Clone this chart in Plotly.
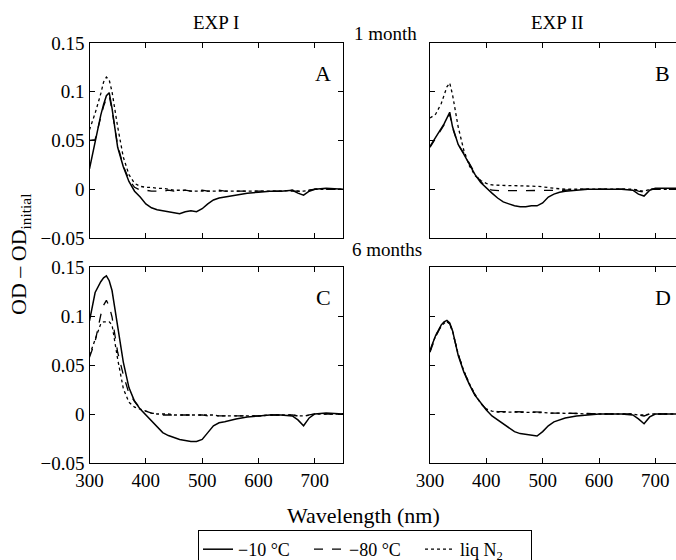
import plotly.graph_objects as go

# ---------------- data ----------------
wavelength = [300, 310, 320, 325, 330, 335, 340, 350, 360, 370, 380, 390, 400, 410, 420,
              430, 440, 450, 460, 470, 480, 490, 500, 510, 520, 530, 540, 560, 580, 600,
              620, 640, 660, 670, 680, 690, 700, 720, 750]

# Panel A : EXP I, 1 month
A_m10 = [0.021, 0.050, 0.076, 0.087, 0.096, 0.099, 0.083, 0.043, 0.023, 0.008, -0.002, -0.008, -0.015, -0.019, -0.021,
         -0.022, -0.023, -0.024, -0.025, -0.023, -0.022, -0.023, -0.020, -0.015, -0.011, -0.009, -0.008, -0.006, -0.004, -0.003,
         -0.002, -0.002, -0.001, -0.004, -0.006, -0.002, 0.000, 0.001, 0.000]
A_m80 = [0.050, 0.051, 0.074, 0.085, 0.093, 0.096, 0.081, 0.045, 0.024, 0.010, 0.002, -0.001, -0.001, -0.002, -0.002,
         -0.002, -0.001, -0.002, -0.002, -0.001, -0.002, -0.002, -0.001, -0.002, -0.002, -0.001, -0.002, -0.002, -0.002, -0.002,
         -0.002, -0.002, -0.002, -0.002, -0.003, -0.001, 0.000, 0.000, 0.000]
A_n2 = [0.061, 0.078, 0.098, 0.110, 0.115, 0.112, 0.100, 0.064, 0.033, 0.015, 0.006, 0.003, 0.002, 0.002, 0.001,
        0.001, 0.000, -0.001, -0.001, -0.001, -0.002, -0.002, -0.002, -0.002, -0.002, -0.002, -0.002, -0.002, -0.002, -0.002,
        -0.002, -0.002, -0.001, -0.002, -0.002, -0.001, 0.000, 0.000, 0.000]

# Panel B : EXP II, 1 month
B_m10 = [0.044, 0.053, 0.062, 0.067, 0.073, 0.079, 0.064, 0.046, 0.036, 0.026, 0.015, 0.007, 0.001, -0.004, -0.009,
         -0.013, -0.015, -0.017, -0.018, -0.018, -0.017, -0.017, -0.014, -0.008, -0.005, -0.003, -0.002, -0.001, 0.000, 0.000,
         0.000, 0.000, -0.001, -0.005, -0.007, -0.001, 0.001, 0.001, 0.001]
B_m80 = [0.043, 0.052, 0.061, 0.066, 0.072, 0.077, 0.063, 0.046, 0.037, 0.027, 0.016, 0.008, 0.002, -0.001, -0.0015,
         -0.0015, -0.0015, -0.0015, -0.0015, -0.0015, -0.0015, -0.0015, -0.0015, -0.001, -0.001, -0.001, -0.001, 0.000, 0.000, 0.000,
         0.000, 0.000, 0.000, -0.002, -0.003, 0.000, 0.000, 0.000, 0.000]
B_n2 = [0.073, 0.077, 0.088, 0.097, 0.105, 0.109, 0.097, 0.064, 0.040, 0.024, 0.014, 0.009, 0.006, 0.0044, 0.004,
        0.004, 0.0037, 0.0037, 0.0037, 0.0037, 0.003, 0.003, 0.0025, 0.0015, 0.001, 0.0005, 0.000, 0.000, 0.000, 0.000,
        0.000, 0.000, 0.000, -0.001, -0.002, 0.000, 0.000, 0.000, 0.000]

# Panel C : EXP I, 6 months
C_m10 = [0.095, 0.124, 0.135, 0.139, 0.141, 0.136, 0.126, 0.087, 0.053, 0.027, 0.013, 0.005, -0.001, -0.008, -0.013,
         -0.019, -0.022, -0.024, -0.026, -0.027, -0.028, -0.028, -0.026, -0.019, -0.012, -0.009, -0.008, -0.005, -0.003, -0.002,
         -0.001, -0.001, -0.002, -0.006, -0.012, -0.004, 0.000, 0.001, 0.000]
C_m80 = [0.058, 0.074, 0.101, 0.111, 0.116, 0.110, 0.099, 0.063, 0.040, 0.021, 0.013, 0.006, 0.003, 0.001, 0.000,
         -0.001, -0.001, -0.001, -0.001, -0.001, -0.001, -0.001, -0.001, -0.002, -0.002, -0.002, -0.002, -0.002, -0.002, -0.002,
         -0.001, -0.001, -0.001, -0.002, -0.003, -0.001, 0.000, 0.000, 0.000]
C_n2 = [0.060, 0.075, 0.092, 0.094, 0.094, 0.094, 0.091, 0.056, 0.026, 0.012, 0.007, 0.005, 0.003, 0.001, 0.000,
        0.000, 0.000, -0.001, -0.001, -0.001, -0.001, -0.001, -0.001, -0.001, -0.001, -0.002, -0.002, -0.002, -0.002, -0.002,
        -0.001, -0.001, -0.001, -0.002, -0.002, -0.001, 0.000, 0.000, 0.000]

# Panel D : EXP II, 6 months
D_m10 = [0.065, 0.080, 0.091, 0.094, 0.0955, 0.093, 0.085, 0.060, 0.043, 0.030, 0.019, 0.011, 0.004, -0.002, -0.006,
         -0.010, -0.014, -0.018, -0.020, -0.021, -0.022, -0.0225, -0.018, -0.012, -0.008, -0.006, -0.004, -0.002, -0.001, 0.000,
         0.000, 0.000, -0.001, -0.005, -0.010, -0.003, 0.000, 0.000, 0.000]
D_m80 = [0.063, 0.079, 0.090, 0.093, 0.094, 0.092, 0.084, 0.061, 0.044, 0.030, 0.019, 0.011, 0.005, 0.003, 0.0025,
         0.0025, 0.002, 0.0025, 0.002, 0.002, 0.002, 0.002, 0.002, 0.001, 0.001, 0.001, 0.001, 0.001, 0.0005, 0.000,
         0.000, 0.000, 0.000, -0.001, -0.002, 0.000, 0.000, 0.000, 0.000]
D_n2 = [0.064, 0.080, 0.090, 0.093, 0.095, 0.092, 0.085, 0.061, 0.044, 0.031, 0.020, 0.011, 0.005, 0.003, 0.002,
        0.002, 0.002, 0.002, 0.002, 0.002, 0.0015, 0.0015, 0.0015, 0.001, 0.001, 0.001, 0.0005, 0.0005, 0.000, 0.000,
        0.000, 0.000, 0.000, -0.001, -0.001, 0.000, 0.000, 0.000, 0.000]

series_names = ["\u221210 \u00b0C", "\u221280 \u00b0C", "liq N<sub>2</sub>"]
series_dash = ["solid", "dash", "dot"]
panels = [[A_m10, A_m80, A_n2], [B_m10, B_m80, B_n2], [C_m10, C_m80, C_n2], [D_m10, D_m80, D_n2]]

y_tickvals = [-0.05, 0, 0.05, 0.1, 0.15]
y_ticktext = ["\u22120.05", "0", "0.05", "0.1", "0.15"]
x_tickvals = [300, 400, 500, 600, 700]
x_ticktext = ["300", "400", "500", "600", "700"]

# ---------------- layout geometry ----------------
W, H = 676, 560
FONT = "Liberation Serif, Times New Roman, serif"
px2x = lambda p: p / W
px2y = lambda p: 1 - p / H

x_dom_left = [px2x(89.5), px2x(343)]
x_dom_right = [px2x(430), 1.0]
y_dom_top = [px2y(238), px2y(43)]
y_dom_bot = [px2y(463), px2y(267)]
scale = (343 - 89.5) / 450.0               # px per nm
right_max = 300 + (W - 430) / scale          # right panels are cut by the page edge

fig = go.Figure()

doms = [(x_dom_left, y_dom_top), (x_dom_right, y_dom_top), (x_dom_left, y_dom_bot), (x_dom_right, y_dom_bot)]
for i, (xd, yd) in enumerate(doms):
    k = "" if i == 0 else str(i + 1)
    for j in range(3):
        fig.add_trace(go.Scatter(
            x=wavelength, y=panels[i][j], mode="lines",
            line=dict(color="black", width=1.5 if j == 0 else 1.3, dash=series_dash[j]),
            name=series_names[j], legendgroup=series_names[j], showlegend=(i == 0),
            xaxis="x" + k, yaxis="y" + k))
    left = i in (0, 2)
    bottom = i in (2, 3)
    fig.layout["xaxis" + k] = dict(
        domain=xd, anchor="y" + k,
        range=[300, 750] if left else [300, right_max],
        tickvals=x_tickvals, ticktext=x_ticktext, showticklabels=bottom,
        ticks="inside", ticklen=5, tickwidth=1.2, tickcolor="black",
        showline=True, linecolor="black", linewidth=1.3, mirror="ticks",
        showgrid=False, zeroline=False, automargin=False,
        tickfont=dict(family=FONT, size=19, color="black"))
    fig.layout["yaxis" + k] = dict(
        domain=yd, anchor="x" + k, range=[-0.05, 0.15],
        tickvals=y_tickvals, ticktext=y_ticktext, showticklabels=left,
        ticks="inside", ticklen=5, tickwidth=1.2, tickcolor="black",
        showline=True, linecolor="black", linewidth=1.3, mirror="ticks" if left else False,
        showgrid=False, zeroline=False, automargin=False,
        tickfont=dict(family=FONT, size=19, color="black"))

ann = []
def txt(x, y, s, size=19, angle=0):
    ann.append(dict(x=px2x(x), y=px2y(y), xref="paper", yref="paper", text=s, showarrow=False,
                    font=dict(family=FONT, size=size, color="black"), textangle=angle,
                    xanchor="center", yanchor="middle"))

txt(216, 23, "EXP I")
txt(557, 23, "EXP II")
txt(385, 33, "1 month")
txt(387, 249, "6 months")
txt(323, 74, "A", 22)
txt(662, 74, "B", 22)
txt(323, 297, "C", 22)
txt(663, 297, "D", 22)
txt(20, 255, "OD \u2013 OD<sub>initial</sub>", 22, -90)
txt(363, 515, "Wavelength (nm)", 22)

fig.update_layout(
    width=W, height=H, margin=dict(l=0, r=0, t=0, b=0, autoexpand=False),
    paper_bgcolor="white", plot_bgcolor="white",
    annotations=ann,
    showlegend=True,
    legend=dict(orientation="h", x=px2x(365), xanchor="center", y=px2y(530), yanchor="top",
                bordercolor="black", borderwidth=1, bgcolor="white",
                font=dict(family=FONT, size=18, color="black"),
                itemwidth=30, entrywidth=66, tracegroupgap=0),
)

fig.write_html("out.html", config={"displayModeBar": False},
               post_script="document.body.style.margin='0px';document.body.style.padding='0px';")
